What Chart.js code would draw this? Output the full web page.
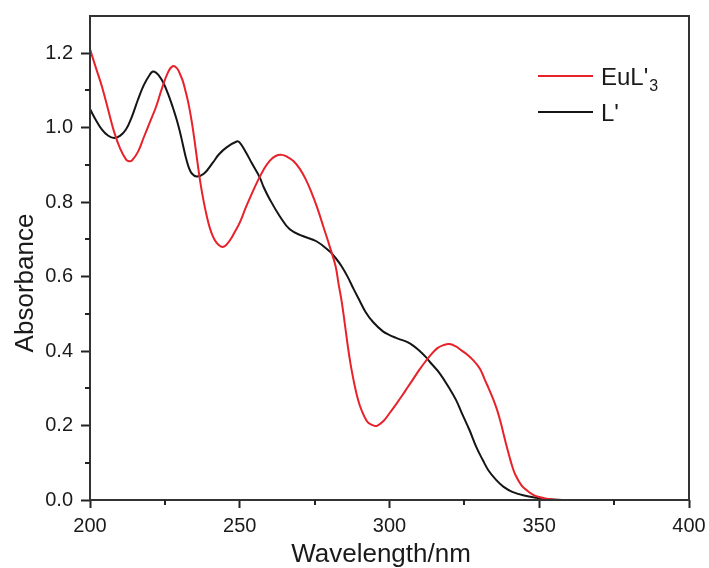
<!DOCTYPE html>
<html lang="en">
<head>
    <meta charset="UTF-8">
    <title>Absorbance spectra</title>
    <script src="https://cdn.jsdelivr.net/npm/chart.js"></script>
    <style>
        html, body { margin: 0; padding: 0; background: #fff; }
        #wrap { width: 709px; height: 568px; }
    </style>
</head>
<body>
    <div id="wrap"><canvas id="spectra"></canvas></div>

    <script>
        // EuL'3 spectrum (red)
        const wlEu = [200, 202, 204, 206, 208, 210, 212, 213, 214, 216, 218, 220, 222, 224, 226, 227.6, 229, 230, 231, 232, 233, 234, 235, 236, 237, 238, 239, 240, 241, 242, 243, 244, 245, 246, 247, 248, 250, 252, 254, 256, 258, 260, 262, 264, 266, 268, 270, 272, 274, 276, 278, 280, 282, 283, 284, 285, 286, 287, 288, 289, 290, 291, 292, 293, 295, 296, 298, 300, 302, 304, 306, 308, 310, 312, 314, 316, 318, 320, 322, 324, 326, 328, 330, 331, 332, 333, 334, 335, 336, 337, 338, 339, 340, 341, 342, 344, 346, 348, 350, 352, 355, 360, 400];
        const absEu = [1.211, 1.16, 1.11, 1.05, 0.99, 0.945, 0.915, 0.91, 0.912, 0.935, 0.975, 1.015, 1.055, 1.105, 1.148, 1.165, 1.16, 1.145, 1.125, 1.095, 1.06, 1.015, 0.96, 0.90, 0.845, 0.80, 0.762, 0.731, 0.709, 0.694, 0.685, 0.68, 0.682, 0.69, 0.701, 0.715, 0.745, 0.785, 0.822, 0.857, 0.888, 0.911, 0.924, 0.927, 0.921, 0.91, 0.89, 0.862, 0.825, 0.782, 0.732, 0.682, 0.628, 0.58, 0.535, 0.478, 0.418, 0.365, 0.322, 0.285, 0.256, 0.235, 0.218, 0.207, 0.199, 0.20, 0.212, 0.233, 0.255, 0.278, 0.302, 0.326, 0.35, 0.372, 0.392, 0.408, 0.416, 0.419, 0.413, 0.402, 0.39, 0.375, 0.355, 0.339, 0.32, 0.302, 0.283, 0.263, 0.24, 0.212, 0.18, 0.148, 0.118, 0.09, 0.068, 0.04, 0.025, 0.014, 0.008, 0.004, 0.001, 0, 0];

        // L' spectrum (black)
        const wlL = [200, 202, 204, 206, 208, 210, 212, 214, 216, 218, 220, 221, 222, 223, 224, 225, 226, 227, 228, 229, 230, 231, 232, 233, 234, 235.6, 238, 241, 243, 245.6, 249, 250, 252, 254, 256.7, 258, 260, 263.3, 266.7, 271, 275.6, 280, 282, 284, 286, 288, 290, 292, 294.5, 297.8, 300, 302, 304, 306, 308, 310, 312, 314, 316.7, 320, 322.2, 324, 326.7, 329, 331.1, 333, 335.6, 338, 341, 345, 349, 353, 358, 400];
        const absL = [1.05, 1.02, 0.995, 0.979, 0.972, 0.978, 0.995, 1.03, 1.075, 1.115, 1.143, 1.151, 1.148, 1.14, 1.128, 1.112, 1.092, 1.07, 1.046, 1.02, 0.99, 0.955, 0.92, 0.893, 0.877, 0.869, 0.876, 0.906, 0.928, 0.947, 0.963, 0.96, 0.935, 0.905, 0.866, 0.84, 0.808, 0.763, 0.727, 0.709, 0.695, 0.668, 0.65, 0.628, 0.60, 0.567, 0.536, 0.505, 0.478, 0.453, 0.443, 0.436, 0.43, 0.424, 0.414, 0.401, 0.385, 0.366, 0.341, 0.30, 0.269, 0.236, 0.188, 0.142, 0.108, 0.08, 0.054, 0.036, 0.022, 0.012, 0.006, 0.002, 0, 0];

        const xMinorTicks = [225, 275, 325, 375];
        const yMinorTicks = [0.1, 0.3, 0.5, 0.7, 0.9, 1.1];

        const FONT = "'Liberation Sans', Arial, sans-serif";
        const INK = '#1a1a1a';

        function toPoints(xs, ys) {
            return xs.map((x, i) => ({ x: x, y: ys[i] }));
        }

        // frame, minor ticks, axis titles and legend
        const decorations = {
            id: 'decorations',
            afterDraw(chart) {
                const ctx = chart.ctx;
                const area = chart.chartArea;
                const xs = chart.scales.x;
                const ys = chart.scales.y;
                ctx.save();

                ctx.strokeStyle = '#333';
                ctx.lineWidth = 2;
                ctx.strokeRect(area.left, area.top, area.right - area.left, area.bottom - area.top);

                ctx.strokeStyle = '#222';
                ctx.beginPath();
                xMinorTicks.forEach(v => {
                    const px = Math.round(xs.getPixelForValue(v));
                    ctx.moveTo(px, area.bottom);
                    ctx.lineTo(px, area.bottom + 5);
                });
                yMinorTicks.forEach(v => {
                    const py = Math.round(ys.getPixelForValue(v));
                    ctx.moveTo(area.left, py);
                    ctx.lineTo(area.left - 5, py);
                });
                ctx.stroke();

                // axis titles
                ctx.fillStyle = INK;
                ctx.font = '26px ' + FONT;
                ctx.textAlign = 'center';
                ctx.textBaseline = 'alphabetic';
                ctx.fillText('Wavelength/nm', 381, 562);
                ctx.save();
                ctx.translate(33, 283);
                ctx.rotate(-Math.PI / 2);
                ctx.fillText('Absorbance', 0, 0);
                ctx.restore();

                // legend
                const rows = [76, 112];
                chart.data.datasets.forEach((ds, i) => {
                    const y = rows[i];
                    ctx.strokeStyle = ds.borderColor;
                    ctx.lineWidth = 2;
                    ctx.beginPath();
                    ctx.moveTo(538, y);
                    ctx.lineTo(593, y);
                    ctx.stroke();
                    ctx.fillStyle = INK;
                    ctx.textAlign = 'left';
                    ctx.font = '24px ' + FONT;
                    ctx.fillText(ds.label, 601, y + 9);
                    if (ds.sub) {
                        const w = ctx.measureText(ds.label).width;
                        ctx.font = '16px ' + FONT;
                        ctx.fillText(ds.sub, 601 + w + 1, y + 15);
                    }
                });
                ctx.restore();
            }
        };

        new Chart(document.getElementById('spectra'), {
            type: 'line',
            data: {
                datasets: [
                    {
                        label: "EuL'",
                        sub: '3',
                        data: toPoints(wlEu, absEu),
                        borderColor: '#e8222a',
                        borderWidth: 2,
                        pointRadius: 0,
                        tension: 0.4,
                        fill: false
                    },
                    {
                        label: "L'",
                        data: toPoints(wlL, absL),
                        borderColor: '#151515',
                        borderWidth: 2,
                        pointRadius: 0,
                        tension: 0.4,
                        fill: false
                    }
                ]
            },
            options: {
                responsive: true,
                maintainAspectRatio: false,
                animation: false,
                layout: { padding: { top: 16, right: 20, left: 0, bottom: 0 } },
                plugins: {
                    legend: { display: false },
                    tooltip: { enabled: false }
                },
                scales: {
                    x: {
                        type: 'linear',
                        min: 200,
                        max: 400,
                        afterFit: s => { s.height = 68; s.paddingLeft = 0; s.paddingRight = 0; },
                        border: { display: false },
                        grid: { drawOnChartArea: false, tickLength: 8, tickWidth: 2, tickColor: '#222' },
                        ticks: {
                            stepSize: 50,
                            padding: 6,
                            color: INK,
                            font: { family: FONT, size: 20 }
                        }
                    },
                    y: {
                        min: 0,
                        max: 1.3,
                        afterFit: s => { s.width = 90; s.paddingTop = 0; s.paddingBottom = 0; },
                        afterBuildTicks: s => {
                            s.ticks = [0, 0.2, 0.4, 0.6, 0.8, 1.0, 1.2].map(v => ({ value: v }));
                        },
                        border: { display: false },
                        grid: { drawOnChartArea: false, tickLength: 9, tickWidth: 2, tickColor: '#222' },
                        ticks: {
                            padding: 8,
                            color: INK,
                            font: { family: FONT, size: 20 },
                            callback: v => v.toFixed(1)
                        }
                    }
                }
            },
            plugins: [decorations]
        });
    </script>
</body>
</html>
